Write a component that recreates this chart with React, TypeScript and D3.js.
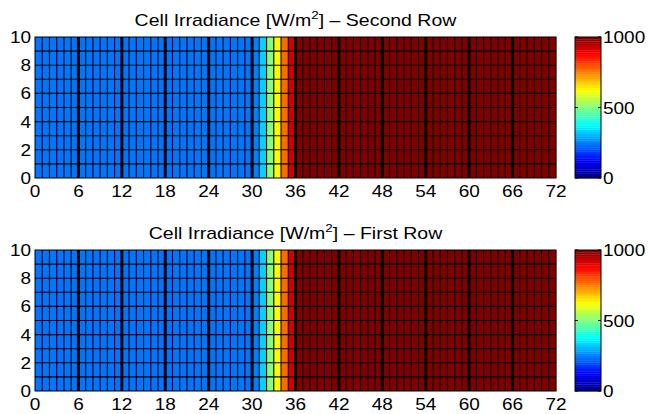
import React from "react";
import * as d3 from "d3";

// Irradiance per cell column [W/m^2] (each column is uniform over the 10 rows)
const secondRow: number[] = [
  240, 240, 240, 240, 240, 240, 240, 240, 240, 240, 240, 240,
  240, 240, 240, 240, 240, 240, 240, 240, 240, 240, 240, 240,
  240, 240, 240, 240, 240, 240, 250, 330, 500, 630, 770, 920,
  1000, 1000, 1000, 1000, 1000, 1000, 1000, 1000, 1000, 1000, 1000, 1000,
  1000, 1000, 1000, 1000, 1000, 1000, 1000, 1000, 1000, 1000, 1000, 1000,
  1000, 1000, 1000, 1000, 1000, 1000, 1000, 1000, 1000, 1000, 1000, 1000,
];
const firstRow: number[] = [
  240, 240, 240, 240, 240, 240, 240, 240, 240, 240, 240, 240,
  240, 240, 240, 240, 240, 240, 240, 240, 240, 240, 240, 240,
  240, 240, 240, 240, 240, 240, 250, 330, 500, 630, 770, 920,
  1000, 1000, 1000, 1000, 1000, 1000, 1000, 1000, 1000, 1000, 1000, 1000,
  1000, 1000, 1000, 1000, 1000, 1000, 1000, 1000, 1000, 1000, 1000, 1000,
  1000, 1000, 1000, 1000, 1000, 1000, 1000, 1000, 1000, 1000, 1000, 1000,
];
const nRows = 10;
const xTicks = [0, 6, 12, 18, 24, 30, 36, 42, 48, 54, 60, 66, 72];
const yTicks = [0, 2, 4, 6, 8, 10];
const cbTicks = [0, 500, 1000];
const titles = ["Second Row", "First Row"];

const FONT = "'Liberation Sans', Arial, Helvetica, sans-serif";

function jet(t: number): string {
  const c = (v: number) => Math.max(0, Math.min(1, v));
  const r = c(1.5 - Math.abs(4 * t - 3));
  const g = c(1.5 - Math.abs(4 * t - 2));
  const b = c(1.5 - Math.abs(4 * t - 1));
  return d3.rgb(r * 255, g * 255, b * 255).formatHex();
}

function Txt(props: { x: number; y: number; anchor?: string; size: number; sx?: number; children: React.ReactNode }) {
  const { x, y, anchor = "start", size, sx = 1.15, children } = props;
  return (
    <text
      transform={`translate(${x},${y}) scale(${sx},1)`}
      textAnchor={anchor}
      fontFamily={FONT}
      fontSize={size}
      fill="#000"
    >
      {children}
    </text>
  );
}

function Panel({ values, title, top }: { values: number[]; title: string; top: number }) {
  const left = 35, right = 556, h = 141;
  const x = d3.scaleLinear().domain([0, values.length]).range([left, right]);
  const y = d3.scaleLinear().domain([0, nRows]).range([top + h, top]);
  const color = (v: number) => jet(v / 1000);
  const rows = d3.range(nRows);
  const cbL = 575, cbR = 601;
  const cy = d3.scaleLinear().domain([0, 1000]).range([top + h, top]);
  const nCb = 64;
  return (
    <g>
      {values.map((v, i) =>
        <rect key={i} x={x(i)} y={y(nRows)} width={x(i + 1) - x(i) + 0.3} height={y(0) - y(nRows)} fill={color(v)} />
      )}
      {rows.slice(1).map((j) =>
        <line key={"h" + j} x1={left} x2={right} y1={y(j)} y2={y(j)} stroke="#000" strokeWidth={1.1} />
      )}
      {values.map((_, i) => i === 0 ? null :
        <line key={"v" + i} x1={x(i)} x2={x(i)} y1={y(0)} y2={y(nRows)} stroke="#000"
          strokeWidth={i % 6 === 0 ? 3 : 1.1} />
      )}
      <rect x={left} y={top} width={right - left} height={h} fill="none" stroke="#000" strokeWidth={1} />
      {xTicks.map((t) =>
        <Txt key={"xt" + t} x={x(t)} y={top + h + 19} anchor="middle" size={16.5}>{t}</Txt>
      )}
      {yTicks.map((t) =>
        <Txt key={"yt" + t} x={31} y={y(t) + 6} anchor="end" size={16.5}>{t}</Txt>
      )}
      <Txt x={(left + right) / 2} y={top - 11} anchor="middle" size={16} sx={1.22}>
        Cell Irradiance [W/m<tspan dy={-7} fontSize={11}>2</tspan><tspan dy={7}>] – {title}</tspan>
      </Txt>
      {d3.range(nCb).map((k) =>
        <rect key={"cb" + k} x={cbL} width={cbR - cbL}
          y={cy(((k + 1) / nCb) * 1000)} height={cy(0) - cy(1000 / nCb) + 0.3}
          fill={jet((k + 0.5) / nCb)} />
      )}
      <rect x={cbL} y={top} width={cbR - cbL} height={h} fill="none" stroke="#000" strokeWidth={1} />
      {cbTicks.map((t) =>
        <g key={"cb" + t}>
          <line x1={cbL} x2={cbL + 3} y1={cy(t)} y2={cy(t)} stroke="#000" />
          <line x1={cbR - 3} x2={cbR} y1={cy(t)} y2={cy(t)} stroke="#000" />
          <Txt x={cbR + 2} y={cy(t) + 6} size={16.5}>{t}</Txt>
        </g>
      )}
    </g>
  );
}

export default function App() {
  return (
    <svg width={648} height={414} style={{ display: "block", position: "absolute", left: 0, top: 0, background: "#fff" }}>
      <rect width={648} height={414} fill="#fff" />
      <Panel values={secondRow} title={titles[0]} top={37} />
      <Panel values={firstRow} title={titles[1]} top={250} />
    </svg>
  );
}
